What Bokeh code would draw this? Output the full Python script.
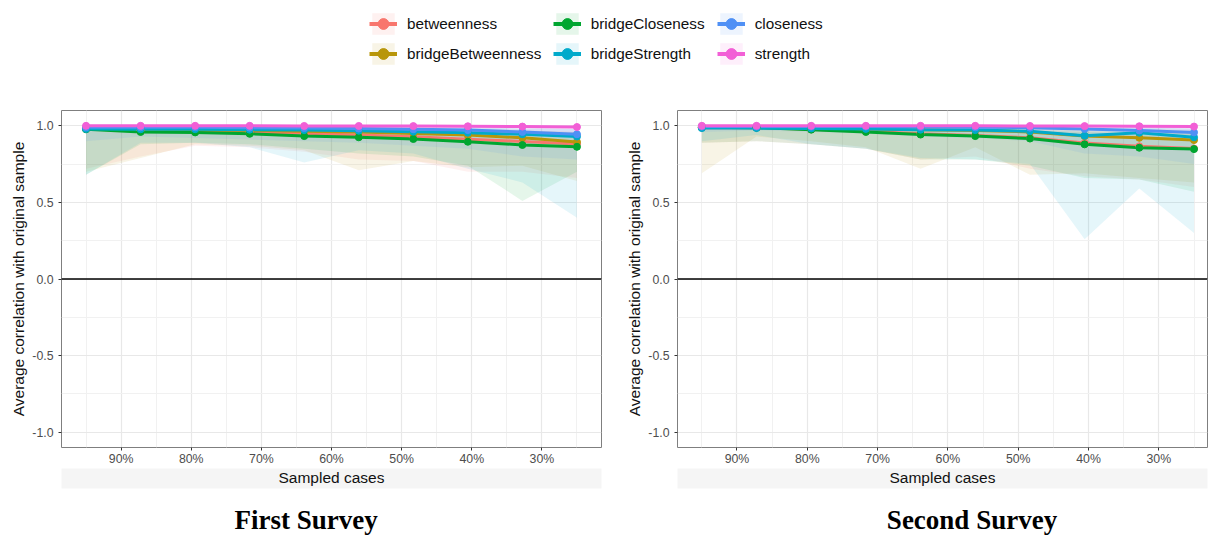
from bokeh.plotting import figure
from bokeh.models import (ColumnDataSource, Range1d, FixedTicker, Span, Legend, LegendItem,
                          LinearAxis, Label, NumeralTickFormatter)
from bokeh.layouts import column, row
from bokeh.embed import file_html
from bokeh.resources import INLINE

# ---------------- data ----------------
sampled = [0.95, 0.8722, 0.7944, 0.7167, 0.6389, 0.5611, 0.4833, 0.4056, 0.3278, 0.25]
measures = ["betweenness", "bridgeBetweenness", "bridgeCloseness", "bridgeStrength", "closeness", "strength"]
colors = ["#F8766D", "#B8960A", "#00A630", "#00AACB", "#4F90F5", "#F25FD6"]
panel_titles = ["First Survey", "Second Survey"]

x_ticks = [0.9, 0.8, 0.7, 0.6, 0.5, 0.4, 0.3]
x_minor = [0.95, 0.85, 0.75, 0.65, 0.55, 0.45, 0.35, 0.25]
y_ticks = [-1.0, -0.5, 0.0, 0.5, 1.0]
y_minor = [-0.75, -0.25, 0.25, 0.75]

# First survey: mean correlation
s1_betweenness = [0.980, 0.970, 0.968, 0.960, 0.950, 0.940, 0.928, 0.913, 0.898, 0.882]
s1_bridgeBetweenness = [0.985, 0.975, 0.975, 0.970, 0.965, 0.960, 0.950, 0.940, 0.922, 0.895]
s1_bridgeCloseness = [0.977, 0.960, 0.957, 0.948, 0.933, 0.925, 0.914, 0.896, 0.875, 0.863]
s1_bridgeStrength = [0.980, 0.978, 0.978, 0.975, 0.972, 0.968, 0.962, 0.955, 0.945, 0.930]
s1_closeness = [0.990, 0.990, 0.990, 0.988, 0.985, 0.982, 0.978, 0.972, 0.960, 0.945]
s1_strength = [1.000, 1.000, 1.000, 1.000, 0.999, 0.999, 0.998, 0.997, 0.995, 0.992]
# First survey: lower / upper bounds
s1_betweenness_lo = [0.72, 0.80, 0.87, 0.86, 0.83, 0.78, 0.77, 0.70, 0.70, 0.66]
s1_bridgeBetweenness_lo = [0.70, 0.79, 0.88, 0.87, 0.84, 0.71, 0.77, 0.73, 0.74, 0.64]
s1_bridgeCloseness_lo = [0.68, 0.88, 0.89, 0.88, 0.85, 0.82, 0.80, 0.74, 0.51, 0.70]
s1_bridgeStrength_lo = [0.68, 0.89, 0.89, 0.86, 0.76, 0.84, 0.82, 0.72, 0.63, 0.40]
s1_closeness_lo = [0.90, 0.93, 0.92, 0.91, 0.90, 0.89, 0.87, 0.85, 0.80, 0.78]
s1_strength_lo = [0.97, 0.98, 0.98, 0.98, 0.98, 0.97, 0.97, 0.96, 0.95, 0.94]
s1_betweenness_hi = [1.00, 0.99, 0.99, 0.99, 0.99, 0.98, 0.98, 0.97, 0.97, 0.96]
s1_bridgeBetweenness_hi = [1.00, 1.00, 0.99, 0.99, 0.99, 0.99, 0.98, 0.98, 0.97, 0.96]
s1_bridgeCloseness_hi = [1.00, 0.99, 0.99, 0.99, 0.98, 0.98, 0.97, 0.97, 0.96, 0.95]
s1_bridgeStrength_hi = [1.00, 1.00, 1.00, 0.99, 0.99, 0.99, 0.99, 0.99, 0.98, 0.98]
s1_closeness_hi = [1.00, 1.00, 1.00, 1.00, 1.00, 1.00, 0.99, 0.99, 0.99, 0.98]
s1_strength_hi = [1.00, 1.00, 1.00, 1.00, 1.00, 1.00, 1.00, 1.00, 1.00, 1.00]

# Second survey: mean correlation
s2_betweenness = [0.988, 0.988, 0.978, 0.965, 0.948, 0.937, 0.922, 0.888, 0.866, 0.852]
s2_bridgeBetweenness = [0.990, 0.990, 0.985, 0.980, 0.975, 0.970, 0.960, 0.933, 0.922, 0.907]
s2_bridgeCloseness = [0.990, 0.988, 0.975, 0.960, 0.943, 0.933, 0.917, 0.879, 0.857, 0.848]
s2_bridgeStrength = [0.985, 0.985, 0.983, 0.980, 0.975, 0.972, 0.965, 0.935, 0.955, 0.925]
s2_closeness = [0.995, 0.995, 0.995, 0.995, 0.992, 0.990, 0.988, 0.980, 0.970, 0.957]
s2_strength = [1.000, 1.000, 1.000, 1.000, 1.000, 1.000, 0.999, 0.998, 0.997, 0.995]
# Second survey: lower / upper bounds
s2_betweenness_lo = [0.89, 0.90, 0.88, 0.85, 0.78, 0.80, 0.72, 0.67, 0.65, 0.60]
s2_bridgeBetweenness_lo = [0.69, 0.93, 0.90, 0.86, 0.72, 0.86, 0.68, 0.69, 0.66, 0.63]
s2_bridgeCloseness_lo = [0.89, 0.90, 0.88, 0.85, 0.78, 0.78, 0.74, 0.66, 0.65, 0.57]
s2_bridgeStrength_lo = [0.90, 0.94, 0.88, 0.85, 0.79, 0.78, 0.75, 0.26, 0.59, 0.30]
s2_closeness_lo = [0.96, 0.97, 0.96, 0.95, 0.93, 0.92, 0.90, 0.82, 0.80, 0.75]
s2_strength_lo = [0.99, 0.99, 0.99, 0.99, 0.98, 0.98, 0.98, 0.97, 0.97, 0.96]
s2_betweenness_hi = [1.00, 1.00, 0.99, 0.99, 0.99, 0.98, 0.98, 0.97, 0.96, 0.95]
s2_bridgeBetweenness_hi = [1.00, 1.00, 1.00, 0.99, 0.99, 0.99, 0.99, 0.98, 0.98, 0.97]
s2_bridgeCloseness_hi = [1.00, 1.00, 0.99, 0.99, 0.98, 0.98, 0.97, 0.96, 0.95, 0.95]
s2_bridgeStrength_hi = [1.00, 1.00, 1.00, 1.00, 0.99, 0.99, 0.99, 0.99, 0.99, 0.98]
s2_closeness_hi = [1.00, 1.00, 1.00, 1.00, 1.00, 1.00, 1.00, 0.99, 0.99, 0.99]
s2_strength_hi = [1.00, 1.00, 1.00, 1.00, 1.00, 1.00, 1.00, 1.00, 1.00, 1.00]

survey1 = {
    "mean": [s1_betweenness, s1_bridgeBetweenness, s1_bridgeCloseness, s1_bridgeStrength, s1_closeness, s1_strength],
    "lo": [s1_betweenness_lo, s1_bridgeBetweenness_lo, s1_bridgeCloseness_lo, s1_bridgeStrength_lo, s1_closeness_lo, s1_strength_lo],
    "hi": [s1_betweenness_hi, s1_bridgeBetweenness_hi, s1_bridgeCloseness_hi, s1_bridgeStrength_hi, s1_closeness_hi, s1_strength_hi],
}
survey2 = {
    "mean": [s2_betweenness, s2_bridgeBetweenness, s2_bridgeCloseness, s2_bridgeStrength, s2_closeness, s2_strength],
    "lo": [s2_betweenness_lo, s2_bridgeBetweenness_lo, s2_bridgeCloseness_lo, s2_bridgeStrength_lo, s2_closeness_lo, s2_strength_lo],
    "hi": [s2_betweenness_hi, s2_bridgeBetweenness_hi, s2_bridgeCloseness_hi, s2_bridgeStrength_hi, s2_closeness_hi, s2_strength_hi],
}

FONT = "Liberation Sans"
PANEL_H = 415
LINE_W = 3
PT_SIZE = 7
STRIP = "#f5f5f5"


def make_panel(data, width, mbl, mbr, xr):
    p = figure(width=width, height=PANEL_H, x_range=Range1d(*xr), y_range=Range1d(-1.1, 1.1),
               output_backend="svg", toolbar_location=None,
               min_border_left=mbl, min_border_right=mbr, min_border_top=30, min_border_bottom=48,
               background_fill_color="white", border_fill_color="white")
    p.outline_line_color = "#7f7f7f"
    p.outline_line_width = 1

    p.xaxis.ticker = FixedTicker(ticks=x_ticks, minor_ticks=x_minor)
    p.yaxis.ticker = FixedTicker(ticks=y_ticks, minor_ticks=y_minor)
    for g in (p.xgrid, p.ygrid):
        g.grid_line_color = "#e8e8e8"
        g.grid_line_width = 1.2
        g.minor_grid_line_color = "#f1f1f1"
        g.minor_grid_line_width = 1

    p.xaxis.formatter = NumeralTickFormatter(format="0%")
    p.yaxis.formatter = NumeralTickFormatter(format="0.0")
    for ax in (p.xaxis, p.yaxis):
        ax.axis_line_color = None
        ax.major_tick_line_color = "#333333"
        ax.major_tick_out = 3
        ax.major_tick_in = 0
        ax.minor_tick_line_color = None
        ax.major_label_text_font = FONT
        ax.major_label_text_font_size = "12.3px"
        ax.major_label_text_color = "#4d4d4d"
        ax.major_label_standoff = 4
        ax.axis_label_text_font = FONT
        ax.axis_label_text_font_size = "15.5px"
        ax.axis_label_text_font_style = "normal"
        ax.axis_label_text_color = "#111111"
        ax.axis_label_standoff = 2
    p.xaxis.major_label_standoff = 0
    p.yaxis.axis_label = "Average correlation with original sample"

    # second bottom axis carrying only the x title (on a light strip)
    xt = LinearAxis(ticker=FixedTicker(ticks=[]), axis_label="Sampled cases",
                    axis_line_color=None, major_tick_line_color=None, minor_tick_line_color=None,
                    major_tick_out=0, major_tick_in=0, minor_tick_out=0, minor_tick_in=0,
                    major_label_standoff=0, axis_label_standoff=0,
                    axis_label_text_font=FONT, axis_label_text_font_size="15.5px",
                    axis_label_text_font_style="normal", axis_label_text_color="#111111")
    if "background_fill_color" in xt.properties():
        xt.background_fill_color = STRIP
    p.add_layout(xt, "below")

    # ribbons
    for i, c in enumerate(colors):
        src = ColumnDataSource(dict(x=sampled, lo=data["lo"][i], hi=data["hi"][i]))
        p.varea(x="x", y1="lo", y2="hi", source=src, fill_color=c, fill_alpha=0.1)
    p.add_layout(Span(location=0, dimension="width", line_color="black", line_width=1.6))
    for i, c in enumerate(colors):
        src = ColumnDataSource(dict(x=sampled, y=data["mean"][i]))
        p.line(x="x", y="y", source=src, line_color=c, line_width=LINE_W)
    for i, c in enumerate(colors):
        src = ColumnDataSource(dict(x=sampled, y=data["mean"][i]))
        p.scatter(x="x", y="y", source=src, size=PT_SIZE, fill_color=c, line_color=c)
    return p


p1 = make_panel(survey1, 620, 61, 19, (0.985, 0.215))
p2 = make_panel(survey2, 591, 57, 4, (0.9846, 0.2308))

# legend-only figure (its renderers sit outside its visible ranges)
pl = figure(width=1211, height=80, output_backend="svg", toolbar_location=None,
            x_range=Range1d(0, 1), y_range=Range1d(5, 6),
            min_border=0, background_fill_color="white", border_fill_color="white")
pl.outline_line_color = None
pl.axis.visible = False
pl.grid.visible = False
items = []
for i, (name, c) in enumerate(zip(measures, colors)):
    src = ColumnDataSource(dict(x=sampled, y=survey1["mean"][i], lo=survey1["lo"][i], hi=survey1["hi"][i]))
    ra = pl.varea(x="x", y1="lo", y2="hi", source=src, fill_color=c, fill_alpha=0.1)
    rl = pl.line(x="x", y="y", source=src, line_color=c, line_width=LINE_W + 1)
    rs = pl.scatter(x="x", y="y", source=src, size=PT_SIZE, fill_color=c, line_color=c)
    items.append(LegendItem(label=name, renderers=[ra, rl, rs]))

for k, xpos in enumerate([369, 552.7, 716.7]):
    lg = Legend(items=items[2 * k:2 * k + 2], location=(xpos, 13), orientation="vertical",
                glyph_width=28, glyph_height=27, spacing=3, padding=0, margin=0,
                label_standoff=10, label_text_font=FONT, label_text_font_size="15.3px",
                label_text_color="#111111", border_line_color=None, background_fill_alpha=0)
    pl.add_layout(lg)

# caption strip with the two survey titles
pt = figure(width=1211, height=40, output_backend="svg", toolbar_location=None,
            x_range=Range1d(0, 1), y_range=Range1d(0, 1),
            min_border=0, background_fill_color="white", border_fill_color="white")
pt.outline_line_color = None
pt.axis.visible = False
pt.grid.visible = False
for txt, cx in zip(panel_titles, [305.6, 971.5]):
    pt.add_layout(Label(x=cx, y=15.8, x_units="screen", y_units="screen", text=txt,
                        text_font="Liberation Serif", text_font_style="bold", text_font_size="27px",
                        text_align="center", text_baseline="middle", text_color="#000000"))

layout = column(pl, row(p1, p2, spacing=0), pt, spacing=0)
open("out.html", "w").write(file_html(layout, INLINE))
